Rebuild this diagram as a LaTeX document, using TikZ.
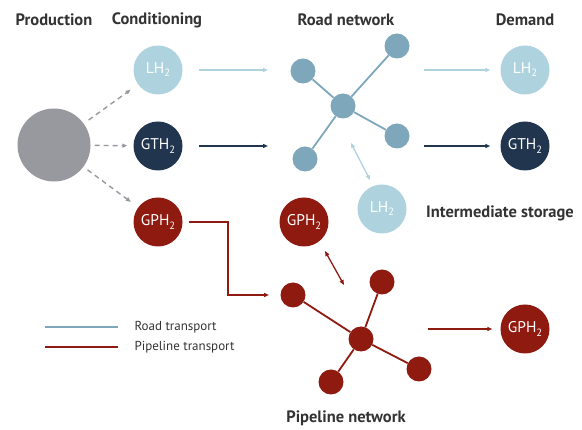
\documentclass[tikz,border=0pt]{standalone}
\usepackage{fontspec}
\setmainfont{PT Sans}
\usetikzlibrary{arrows.meta}
\definecolor{lblue}{HTML}{AED3DF}
\definecolor{navy}{HTML}{22354F}
\definecolor{pred}{HTML}{8E1A10}
\definecolor{steel}{HTML}{7FA7BC}
\definecolor{prodgray}{HTML}{98989F}
\definecolor{txt}{HTML}{333333}
\newcommand{\hsubtwo}[1]{#1H\raisebox{-0.4ex}{\fontsize{10.5}{11}\selectfont 2}}
\tikzset{
  big/.style={circle, minimum size=49pt, inner sep=0pt, text=white, font=\fontsize{15.5}{16}\selectfont},
  head/.style={font=\bfseries\fontsize{16.5}{17}\selectfont, text=txt},
  rnode/.style={circle, fill=steel, minimum size=25pt, inner sep=0pt},
  pnode/.style={circle, fill=pred, minimum size=25pt, inner sep=0pt},
  tip/.style={-{Triangle[length=5pt,width=4pt]}},
  dtip/.style={{Triangle[length=5pt,width=4pt]}-{Triangle[length=5pt,width=4pt]}},
  gdash/.style={prodgray, line width=1.4pt, dash pattern=on 5pt off 4pt, tip},
  edge/.style={line width=1.8pt},
  legtext/.style={font=\fontsize{13}{14}\selectfont, text=txt, anchor=west},
}
\begin{document}
\begin{tikzpicture}[x=1pt,y=-1pt]
\useasboundingbox (0,0) rectangle (582,430);

% headings
\node[head] (hprod) at (54,20) {Production};
\node[head] (hcond) at (157,20) {Conditioning};
\node[head] (hroad) at (346,20) {Road network};
\node[head] (hdem) at (525,20) {Demand};
\node[head] (hstore) at (500,213) {Intermediate storage};
\node[head] (hpipe) at (346,418) {Pipeline network};

% production
\node[circle, fill=prodgray, minimum size=73pt, inner sep=0pt] (prod) at (54,145) {};

% conditioning
\node[big, fill=lblue] (lh2c) at (158,70) {\hsubtwo{L}};
\node[big, fill=navy] (gth2c) at (158,146) {\hsubtwo{GT}};
\node[big, fill=pred] (gph2c) at (158,222) {\hsubtwo{GP}};

% demand
\node[big, fill=lblue] (lh2d) at (525,70) {\hsubtwo{L}};
\node[big, fill=navy] (gth2d) at (525,146) {\hsubtwo{GT}};
\node[big, fill=pred] (gph2d) at (525,329) {\hsubtwo{GP}};

% storage
\node[big, fill=pred] (gph2s) at (304,222) {\hsubtwo{GP}};
\node[big, fill=lblue] (lh2s) at (382,209) {\hsubtwo{L}};

% road network
\node[rnode] (rc) at (343,106) {};
\node[rnode] (r1) at (303,71) {};
\node[rnode] (r2) at (397,46) {};
\node[rnode] (r3) at (397,136) {};
\node[rnode] (r4) at (305,159) {};
\foreach \n in {r1,r2,r3,r4} \draw[steel, edge] (rc) -- (\n);

% pipeline network
\node[pnode] (pc) at (361,339) {};
\node[pnode] (p1) at (293,295) {};
\node[pnode] (p2) at (382,282) {};
\node[pnode] (p3) at (419,369) {};
\node[pnode] (p4) at (331,382) {};
\foreach \n in {p1,p2,p3,p4} \draw[pred, edge] (pc) -- (\n);

% dashed production arrows
\draw[gdash, shorten <=6pt, shorten >=9pt] (prod) -- (lh2c);
\draw[gdash, shorten <=4pt, shorten >=6pt] (prod) -- (gth2c);
\draw[gdash, shorten <=5pt, shorten >=9pt] (prod) -- (gph2c);

% road arrows
\coordinate (lin) at (268,70);
\coordinate (gin) at (268,146);
\coordinate (lout) at (424,70);
\coordinate (gout) at (424,146);
\draw[lblue, line width=1.4pt, tip, shorten <=16pt] (lh2c) -- (lin);
\draw[navy, line width=1.4pt, tip, shorten <=16pt] (gth2c) -- (gin);
\draw[lblue, line width=1.4pt, tip, shorten >=10pt] (lout) -- (lh2d);
\draw[navy, line width=1.4pt, tip, shorten >=10pt] (gout) -- (gth2d);

% storage double arrows
\coordinate (sa) at (351,143);
\coordinate (sb) at (370,180);
\draw[lblue, line width=1.3pt, dtip] (sa) -- (sb);
\coordinate (sc) at (325,251);
\coordinate (sd) at (344,285);
\draw[pred, line width=1.3pt, dtip] (sc) -- (sd);

% pipeline arrows
\coordinate (pbend) at (228,295);
\coordinate (pend) at (269,295);
\draw[pred, line width=1.4pt, tip] ([xshift=6pt]gph2c.east) -| (pbend) -- (pend);
\coordinate (pout) at (428,329);
\draw[pred, line width=1.4pt, tip, shorten >=8pt] (pout) -- (gph2d);

% legend
\coordinate (l1a) at (45,327);
\coordinate (l1b) at (118,327);
\coordinate (l2a) at (45,347);
\coordinate (l2b) at (118,347);
\draw[steel, line width=1.4pt] (l1a) -- (l1b);
\draw[pred, line width=1.4pt] (l2a) -- (l2b);
\node[legtext] (lt1) at (131,327) {Road transport};
\node[legtext] (lt2) at (131,347) {Pipeline transport};
\end{tikzpicture}
\end{document}
